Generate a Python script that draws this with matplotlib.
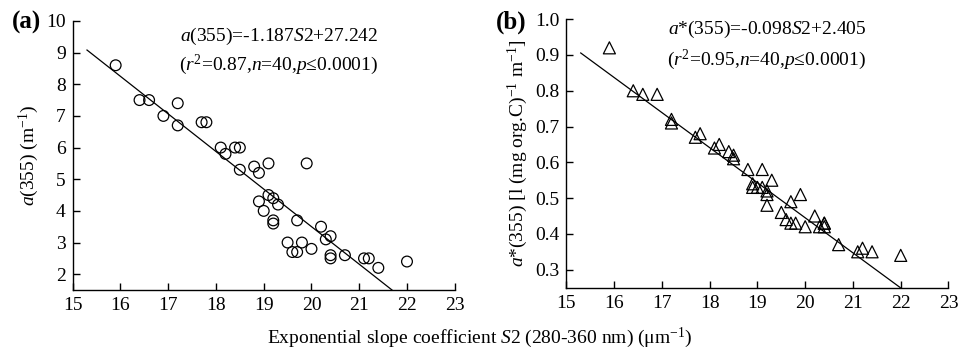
import matplotlib
matplotlib.use("Agg")
import matplotlib.pyplot as plt
import numpy as np

plt.rcParams['font.family'] = ['Liberation Serif', 'DejaVu Serif']
plt.rcParams['mathtext.fontset'] = 'custom'
plt.rcParams['mathtext.rm'] = 'Liberation Serif'
plt.rcParams['mathtext.it'] = 'Liberation Serif:italic'
plt.rcParams['mathtext.bf'] = 'Liberation Serif:bold'

# S2 slope coefficient (um^-1), shared by both panels
s2 = [15.9, 16.4, 16.6, 16.9, 17.2, 17.2, 17.7, 17.8, 18.1, 18.2,
      18.4, 18.5, 18.5, 18.8, 18.9, 19.1, 19.9, 18.9, 19.0, 19.1,
      19.2, 19.3, 19.2, 19.2, 19.5, 19.6, 19.7, 19.7, 19.8, 20.0,
      20.2, 20.3, 20.4, 20.4, 20.4, 20.7, 21.1, 21.2, 21.4, 22.0]

# panel (a): a(355)
a355 = [8.6, 7.5, 7.5, 7.0, 7.4, 6.7, 6.8, 6.8, 6.0, 5.8,
        6.0, 6.0, 5.3, 5.4, 5.2, 5.5, 5.5, 4.3, 4.0, 4.5,
        4.4, 4.2, 3.7, 3.6, 3.0, 2.7, 2.7, 3.7, 3.0, 2.8,
        3.5, 3.1, 3.2, 2.6, 2.5, 2.6, 2.5, 2.5, 2.2, 2.4]

# panel (b): a*(355)
astar = [0.92, 0.80, 0.79, 0.79, 0.72, 0.71, 0.67, 0.68, 0.64, 0.65,
         0.63, 0.62, 0.61, 0.58, 0.54, 0.58, 0.51, 0.53, 0.53, 0.53,
         0.51, 0.55, 0.48, 0.52, 0.46, 0.44, 0.43, 0.49, 0.43, 0.42,
         0.45, 0.42, 0.43, 0.42, 0.43, 0.37, 0.35, 0.36, 0.35, 0.34]

fit_a = (-1.187, 27.242)
fit_b = (-0.098, 2.405)

FS = 14

fig = plt.figure(figsize=(9.6, 3.49), dpi=100)
ax1 = fig.add_axes([0.0757, 0.169, 0.398, 0.771])
ax2 = fig.add_axes([0.590, 0.176, 0.398, 0.769])


def style(ax):
    for side in ('top', 'right'):
        ax.spines[side].set_visible(False)
    for side in ('left', 'bottom'):
        ax.spines[side].set_linewidth(1.0)
    ax.tick_params(direction='in', length=5, width=1.0, labelsize=FS,
                   pad=5)
    ax.set_xlim(15, 23)
    ax.set_xticks(range(15, 24))


# (a)
ax1.scatter(s2, a355, s=60, facecolors='none', edgecolors='black',
            linewidths=0.9, zorder=3)
xl = np.linspace(15.3, (fit_a[1] - 1.5) / -fit_a[0], 2)
ax1.plot(xl, fit_a[0] * xl + fit_a[1], color='black', lw=0.9)
style(ax1)
ax1.set_ylim(1.5, 10)
ax1.set_yticks(range(2, 11))
ax1.set_ylabel(r'$a$(355) (m$^{\mathregular{-1}}$)', fontsize=FS,
               labelpad=4)
ax1.text(19.32, 9.5, r'$a$(355)=-1.187$S$2+27.242', fontsize=FS,
         ha='center', va='center')
ax1.text(19.32, 8.6, r'($r^{\mathregular{2}}$=0.87,$n$=40,$p$≤0.0001)',
         fontsize=FS, ha='center', va='center')
fig.text(0.012, 0.935, '(a)', fontsize=18, fontweight='bold',
         va='center')

# (b)
ax2.scatter(s2, astar, s=75, marker='^', facecolors='none',
            edgecolors='black', linewidths=0.9, zorder=3)
xl = np.linspace(15.3, (fit_b[1] - 0.25) / -fit_b[0], 2)
ax2.plot(xl, fit_b[0] * xl + fit_b[1], color='black', lw=0.9)
style(ax2)
ax2.set_ylim(0.25, 1.0)
ax2.set_yticks(np.arange(0.3, 1.01, 0.1))
ax2.set_yticklabels(['%.1f' % v for v in np.arange(0.3, 1.01, 0.1)])
ax2.set_ylabel(r'$a$*(355) [l (mg org.C)$^{\mathregular{-1}}$ m$^{\mathregular{-1}}$]',
               fontsize=FS, labelpad=4)
ax2.text(19.2, 0.97, r'$a$*(355)=-0.098$S$2+2.405', fontsize=FS,
         ha='center', va='center')
ax2.text(19.2, 0.886, r'($r^{\mathregular{2}}$=0.95,$n$=40,$p$≤0.0001)',
         fontsize=FS, ha='center', va='center')
fig.text(0.517, 0.935, '(b)', fontsize=18, fontweight='bold',
         va='center')

fig.text(0.5, 0.032, r'Exponential slope coefficient $S$2 (280-360 nm) (μm$^{\mathregular{-1}}$)',
         fontsize=FS, ha='center', va='center')

fig.savefig('out.png', dpi=100)
